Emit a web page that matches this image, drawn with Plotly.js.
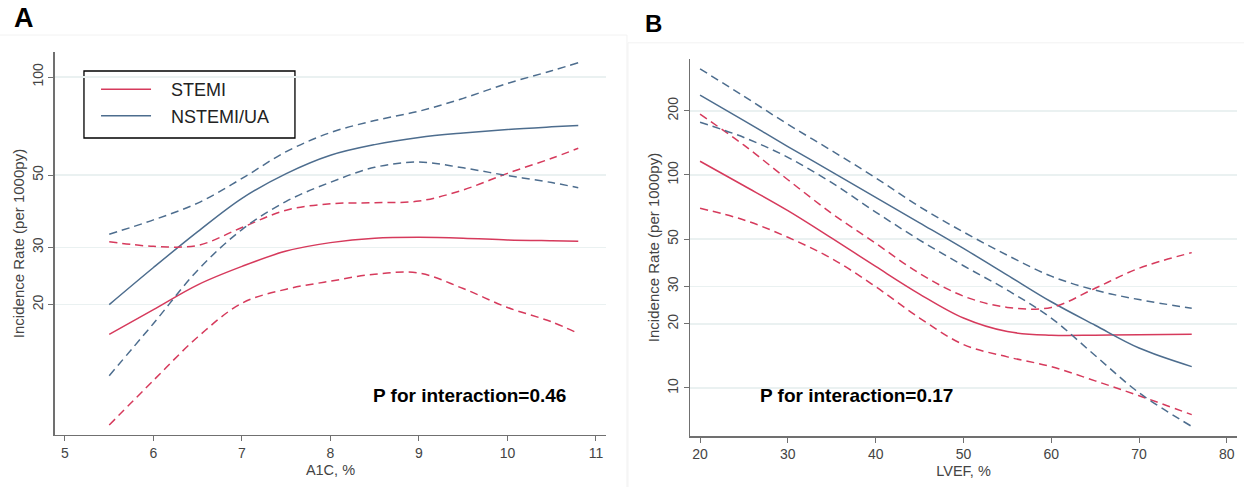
<!DOCTYPE html>
<html>
<head>
<meta charset="utf-8">
<script src="https://cdn.plot.ly/plotly-3.0.1.min.js"></script>
<style>
    html, body { margin: 0; padding: 0; background: #ffffff; }
    #incidenceGraphDiv { width: 1244px; height: 487px; }
</style>
</head>
<body>
<div id="incidenceGraphDiv"></div>
<script>
"use strict";

// Panel A: incidence rate by A1C
var a1cXArray = [5.5, 6, 6.5, 7, 7.5, 8, 8.5, 9, 9.5, 10, 10.5, 10.8];
var a1cStemiArray = [16.2, 19.3, 23.0, 26.2, 29.2, 31.0, 32.0, 32.2, 32.0, 31.6, 31.4, 31.3];
var a1cStemiUpperArray = [31.2, 30.2, 30.4, 34.5, 39.0, 40.8, 41.1, 41.6, 45.0, 50.6, 56.3, 60.4];
var a1cStemiLowerArray = [8.53, 11.7, 15.9, 20.2, 22.3, 23.6, 24.8, 25.0, 22.4, 19.6, 17.7, 16.3];
var a1cNstemiArray = [20.0, 26.0, 33.5, 42.4, 50.5, 57.5, 62.0, 65.2, 67.3, 69.0, 70.3, 71.0];
var a1cNstemiUpperArray = [32.9, 36.4, 41.0, 48.8, 59.0, 67.5, 73.5, 78.5, 86.0, 95.6, 104.5, 110.7];
var a1cNstemiLowerArray = [12.1, 17.5, 25.5, 34.0, 41.5, 47.5, 52.8, 54.8, 52.6, 49.8, 47.4, 45.7];

// Panel B: incidence rate by LVEF
var lvefXArray = [20, 25, 30, 35, 40, 45, 50, 55, 60, 65, 70, 76];
var lvefStemiArray = [116, 89, 68, 50.5, 37.2, 27.6, 21.3, 18.4, 17.7, 17.7, 17.8, 17.9];
var lvefStemiUpperArray = [193, 138, 95, 66, 47.8, 34.5, 27.0, 23.9, 23.9, 29.4, 36.5, 43.2];
var lvefStemiLowerArray = [69.8, 61.5, 51.0, 40.5, 29.9, 21.3, 16.0, 14.0, 12.6, 10.8, 9.2, 7.5];
var lvefNstemiArray = [237, 180, 136, 103.5, 78.5, 59.6, 45.2, 33.9, 25.4, 19.7, 15.4, 12.6];
var lvefNstemiUpperArray = [315, 234, 173, 130, 97, 71, 54, 42, 33.5, 28.8, 26.0, 23.7];
var lvefNstemiLowerArray = [177, 150, 121, 92, 67, 49.5, 37.5, 28.8, 21.3, 14.2, 9.5, 6.6];

var seriesNames = ["STEMI", "NSTEMI/UA"];
var a1cTickValues = [5, 6, 7, 8, 9, 10, 11];
var lvefTickValues = [20, 30, 40, 50, 60, 70, 80];
var a1cRateTickValues = [20, 30, 50, 100];
var lvefRateTickValues = [10, 20, 30, 50, 100, 200];
var pValueTexts = ["P for interaction=0.46", "P for interaction=0.17"];

const stemiColor = "#d63a5c";
const nstemiColor = "#4d6d8e";
const dashStyle = "8px,5px";
const fontName = "Liberation Sans, Arial, sans-serif";
const legendPad = "\u00a0\u00a0\u00a0";

function makeLine(x, y, color, dashed, name, showInLegend, xaxis, yaxis) {
    return {
        x: x,
        y: y,
        type: "scatter",
        mode: "lines",
        name: showInLegend ? legendPad + name : name,
        showlegend: showInLegend,
        xaxis: xaxis,
        yaxis: yaxis,
        hoverinfo: "skip",
        line: { color: color, width: 1.5, shape: "spline", smoothing: 1, dash: dashed ? dashStyle : "solid" }
    };
}

var incidenceTraces = [
    makeLine(a1cXArray, a1cStemiArray, stemiColor, false, seriesNames[0], true, "x", "y"),
    makeLine(a1cXArray, a1cNstemiArray, nstemiColor, false, seriesNames[1], true, "x", "y"),
    makeLine(a1cXArray, a1cStemiUpperArray, stemiColor, true, seriesNames[0], false, "x", "y"),
    makeLine(a1cXArray, a1cStemiLowerArray, stemiColor, true, seriesNames[0], false, "x", "y"),
    makeLine(a1cXArray, a1cNstemiUpperArray, nstemiColor, true, seriesNames[1], false, "x", "y"),
    makeLine(a1cXArray, a1cNstemiLowerArray, nstemiColor, true, seriesNames[1], false, "x", "y"),
    makeLine(lvefXArray, lvefStemiArray, stemiColor, false, seriesNames[0], false, "x2", "y2"),
    makeLine(lvefXArray, lvefNstemiArray, nstemiColor, false, seriesNames[1], false, "x2", "y2"),
    makeLine(lvefXArray, lvefStemiUpperArray, stemiColor, true, seriesNames[0], false, "x2", "y2"),
    makeLine(lvefXArray, lvefStemiLowerArray, stemiColor, true, seriesNames[0], false, "x2", "y2"),
    makeLine(lvefXArray, lvefNstemiUpperArray, nstemiColor, true, seriesNames[1], false, "x2", "y2"),
    makeLine(lvefXArray, lvefNstemiLowerArray, nstemiColor, true, seriesNames[1], false, "x2", "y2")
];

function makeXAxis(domain, range, tickValues, titleText) {
    return {
        domain: domain,
        range: range,
        tickvals: tickValues,
        showgrid: false,
        zeroline: false,
        showline: true,
        linecolor: "#707070",
        linewidth: 1.5,
        ticks: "outside",
        ticklen: 5,
        tickcolor: "#707070",
        tickfont: { family: fontName, size: 14, color: "#444444" },
        title: { text: titleText, standoff: 4, font: { family: fontName, size: 14.5, color: "#444444" } }
    };
}

function makeYAxis(domain, range, tickValues, anchor) {
    return {
        domain: domain,
        type: "log",
        range: range,
        anchor: anchor,
        tickvals: tickValues,
        ticktext: tickValues.map(String),
        tickangle: -90,
        showgrid: true,
        gridcolor: "#eaf1f1",
        gridwidth: 1.5,
        zeroline: false,
        showline: true,
        linecolor: "#707070",
        linewidth: 1.5,
        ticks: "outside",
        ticklen: 5,
        tickcolor: "#707070",
        tickfont: { family: fontName, size: 14, color: "#444444" },
        title: { text: "Incidence Rate (per 1000py)", standoff: 1, font: { family: fontName, size: 15, color: "#444444" } }
    };
}

function makeLabel(text, x, y, size) {
    return {
        text: "<b>" + text + "</b>", xref: "paper", yref: "paper", x: x, y: y,
        xanchor: "center", yanchor: "middle", showarrow: false,
        font: { family: fontName, size: size, color: "#000000" }
    };
}

var incidenceLayout = {
    width: 1244,
    height: 487,
    margin: { l: 0, r: 0, t: 0, b: 0 },
    paper_bgcolor: "#ffffff",
    plot_bgcolor: "#ffffff",
    xaxis: makeXAxis([0.0442, 0.4871], [4.887, 11.113], a1cTickValues, "A1C, %"),
    yaxis: makeYAxis([0.1068, 0.8932], [0.9005, 2.0768], a1cRateTickValues, "x"),
    xaxis2: Object.assign(makeXAxis([0.5547, 0.9944], [18.86, 81.16], lvefTickValues, "LVEF, %"), { anchor: "y2" }),
    yaxis2: makeYAxis([0.1047, 0.8789], [0.7746, 2.5446], lvefRateTickValues, "x2"),
    showlegend: true,
    legend: {
        x: 0.0772,
        y: 0.854,
        xanchor: "left",
        yanchor: "top",
        bgcolor: "rgba(0,0,0,0)",
        borderwidth: 0,
        itemwidth: 50,
        font: { family: fontName, size: 18, color: "#222222" }
    },
    shapes: [
        // faint panel frames
        { type: "line", xref: "paper", yref: "paper", x0: 0, x1: 0.504, y0: 0.928, y1: 0.928, line: { color: "#f2f2f2", width: 1 } },
        { type: "line", xref: "paper", yref: "paper", x0: 0.504, x1: 0.504, y0: 0, y1: 0.928, line: { color: "#f2f2f2", width: 1 } },
        { type: "line", xref: "paper", yref: "paper", x0: 0.5048, x1: 1, y0: 0.912, y1: 0.912, line: { color: "#f2f2f2", width: 1 } },
        { type: "line", xref: "paper", yref: "paper", x0: 0.5048, x1: 0.5048, y0: 0, y1: 0.912, line: { color: "#f2f2f2", width: 1 } },
        // legend frame
        { type: "rect", xref: "paper", yref: "paper", layer: "between", x0: 0.0675, x1: 0.2371, y0: 0.7166, y1: 0.8542,
          fillcolor: "#ffffff", line: { color: "#000000", width: 1.3 } }
    ],
    annotations: [
        makeLabel("A", 0.0189, 0.963, 27),
        makeLabel("B", 0.5257, 0.951, 24),
        makeLabel(pValueTexts[0], 0.3778, 0.1869, 19),
        makeLabel(pValueTexts[1], 0.6889, 0.1869, 19)
    ]
};

Plotly.newPlot("incidenceGraphDiv", incidenceTraces, incidenceLayout, { displayModeBar: false, staticPlot: true });
</script>
</body>
</html>
